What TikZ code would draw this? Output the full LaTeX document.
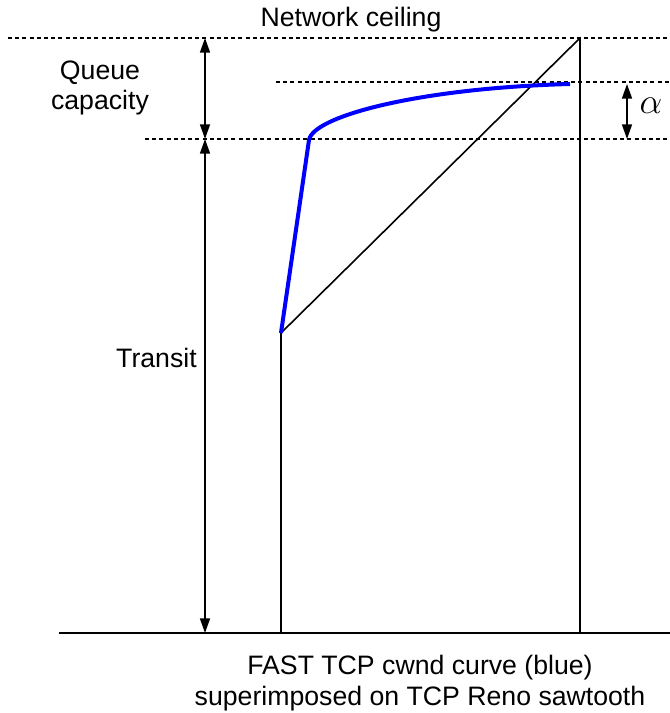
\RequirePackage{fix-cm}
\documentclass[tikz,border=0pt]{standalone}
\usepackage{fontspec}
\setmainfont{Liberation Sans}
\definecolor{cwndblue}{RGB}{0,0,255}
\usetikzlibrary{arrows.meta,positioning}

\begin{document}
\begin{tikzpicture}[
    x=0.75pt, y=-0.75pt,
    label/.style={font=\fontsize{20}{23}\selectfont, inner sep=0pt, align=center},
    level/.style={line width=1.1pt, dash pattern=on 3pt off 2.4pt},
    axis/.style={line width=1.2pt},
    span/.style={line width=1.2pt, {Triangle[length=11pt,width=7.5pt]}-{Triangle[length=11pt,width=7.5pt]}},
    cwnd/.style={cwndblue, line width=3pt}
  ]
    \useasboundingbox (0,0) rectangle (670,713);

    % Levels
    \coordinate (ceilL) at (8,38);
    \coordinate (ceilR) at (670,38);
    \coordinate (topL)  at (276,82);
    \coordinate (topR)  at (670,82);
    \coordinate (qL)    at (145,139);
    \coordinate (qR)    at (670,139);
    \draw[level] (ceilL) -- (ceilR);
    \draw[level] (topL) -- (topR);
    \draw[level] (qL) -- (qR);

    % Axis and sawtooth
    \coordinate (baseL) at (59,633);
    \coordinate (baseR) at (670,633);
    \coordinate (startB) at (281,633);
    \coordinate (start)  at (281,333);
    \coordinate (peakB)  at (580,633);
    \coordinate (peak)   at (580,38);
    \draw[axis] (baseL) -- (baseR);
    \draw[axis] (startB) -- (start);
    \draw[axis] (peakB) -- (peak);
    \draw[axis] (start) -- (peak);

    % Spans
    \coordinate (qTop) at (205,38);
    \coordinate (qBot) at (205,139);
    \coordinate (tBot) at (205,633);
    \coordinate (aTop) at (627,84);
    \coordinate (aBot) at (627,139);
    \draw[span] (qTop) -- (qBot);
    \draw[span] (qBot) -- (tBot);
    \draw[span] (aTop) -- (aBot);

    % FAST TCP cwnd
    \coordinate (knee) at (309,140);
    \coordinate (flat) at (570,84);
    \draw[cwnd] (start) -- (knee) .. controls (313,116) and (420,88) .. (flat);

    % Labels
    \node[label] (ceiling) at (351,20) {Network ceiling};
    \node[label] (queue) at (100,88) {Queue\\capacity};
    \node[label, anchor=east] (transit) at (197,358) {Transit};
    \node[label, font=\fontsize{27}{30}\selectfont] (alpha) at (651,106) {$\alpha$};
    \node[label] (caption) at (420,683) {FAST TCP cwnd curve (blue)\\superimposed on TCP Reno sawtooth};
  \end{tikzpicture}
\end{document}
